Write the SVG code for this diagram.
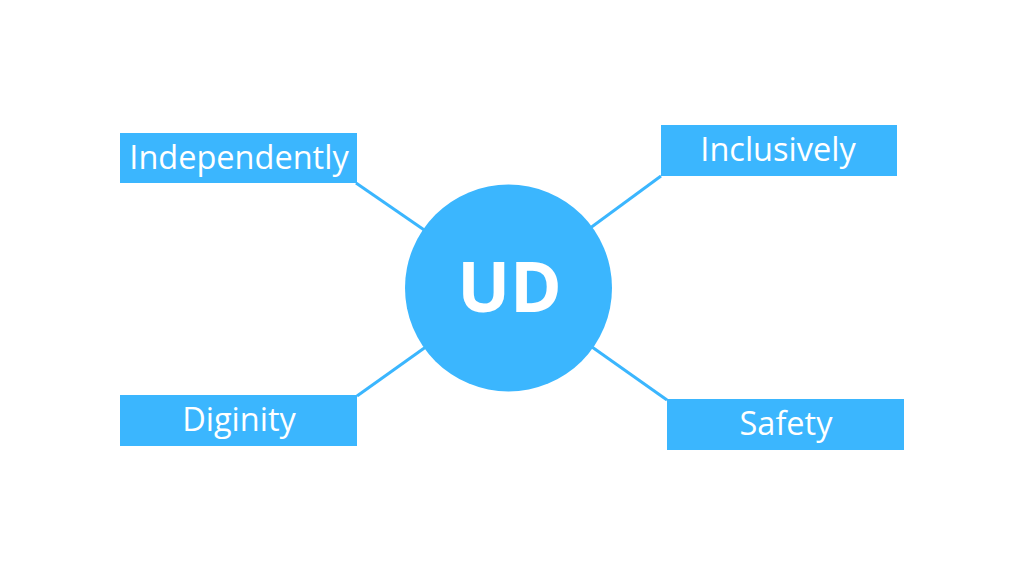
<svg xmlns="http://www.w3.org/2000/svg" width="1024" height="576" viewBox="0 0 1024 576">
<style>
.box{fill:#3bb6fe}
.lbl{font-family:"Open Sans","Noto Sans",sans-serif;font-size:32.5px;fill:#ffffff;text-anchor:middle}
.conn line{stroke:#3bb6fe;stroke-width:3}
</style>
<rect width="1024" height="576" fill="#ffffff"/>
<g id="connectors" class="conn">
<line x1="356" y1="183" x2="508.5" y2="288"/>
<line x1="661" y1="176" x2="508.5" y2="288"/>
<line x1="357" y1="396" x2="508.5" y2="288"/>
<line x1="667" y1="400" x2="508.5" y2="288"/>
</g>
<g id="center">
<circle cx="508.5" cy="288" r="103.5" fill="#3bb6fe"/>
<text x="509.5" y="312" font-family="'Open Sans','Noto Sans',sans-serif" font-size="70" font-weight="bold" fill="#ffffff" text-anchor="middle">UD</text>
</g>
<g id="independently">
<rect class="box" x="120" y="133" width="237" height="50"/>
<text class="lbl" x="239" y="169">Independently</text>
</g>
<g id="inclusively">
<rect class="box" x="661" y="125" width="236" height="51"/>
<text class="lbl" x="778" y="161">Inclusively</text>
</g>
<g id="diginity">
<rect class="box" x="120" y="395" width="237" height="51"/>
<text class="lbl" x="239" y="431">Diginity</text>
</g>
<g id="safety">
<rect class="box" x="667" y="399" width="237" height="51"/>
<text class="lbl" x="786" y="435">Safety</text>
</g>
</svg>
